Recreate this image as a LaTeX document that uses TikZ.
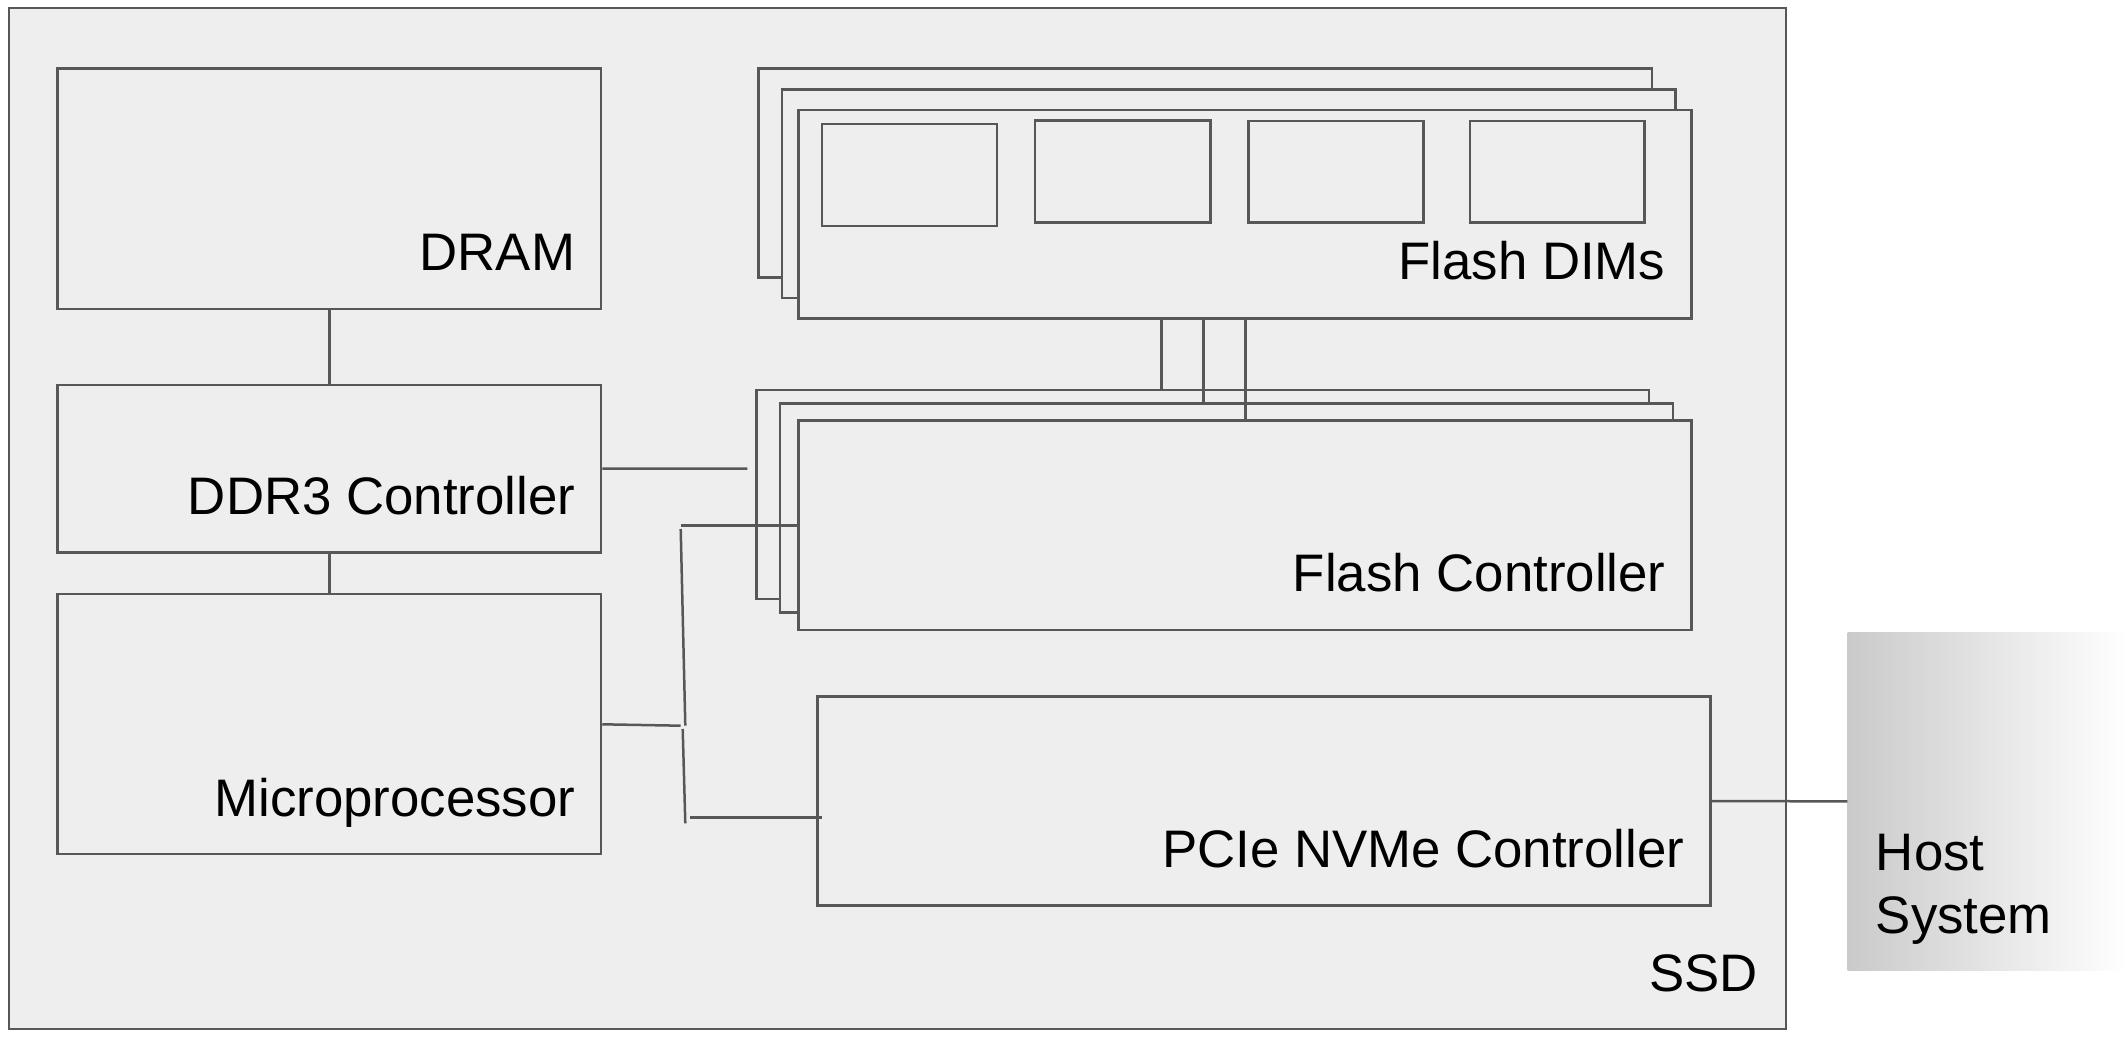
\documentclass[tikz,border=0pt]{standalone}
\usepackage{fontspec}
\setmainfont{Liberation Sans}
\usetikzlibrary{fit}
\definecolor{linec}{HTML}{575757}
\definecolor{boxfill}{HTML}{EEEEEE}
\definecolor{hostgray}{HTML}{CACACA}
\tikzset{
  blk/.style={draw=linec, fill=boxfill, line width=1.25pt, rectangle, inner sep=0pt},
  conn/.style={draw=linec, line width=1.25pt},
  lbl/.style={inner sep=0pt, anchor=base east, font=\fontsize{26.4}{31.85}\selectfont},
}
\begin{document}
\begin{tikzpicture}[x=0.5pt, y=-0.5pt]
\useasboundingbox (0,0) rectangle (2128,1042);
% SSD enclosure
\node[blk, fit={(9,8) (1786,1029)}] (ssd) {};
% left column
\node[blk, fit={(57.5,68.5) (601,309)}] (dram) {};
\node[blk, fit={(57.5,385) (601,552.5)}] (ddr) {};
\node[blk, fit={(57.5,594) (601,854)}] (micro) {};
% Flash DIMs stack
\node[blk, fit={(758.7,68.7) (1652,277.7)}] (dimb) {};
\node[blk, fit={(782,89.3) (1675.3,298)}] (dimm) {};
\node[blk, fit={(798.7,110) (1691.5,318.7)}] (dimf) {};
\node[blk, fit={(822,124) (997,226)}] (chipa) {};
\node[blk, fit={(1035,120.7) (1210.7,222.7)}] (chipb) {};
\node[blk, fit={(1248.5,120.8) (1423.6,222.6)}] (chipc) {};
\node[blk, fit={(1469.8,120.8) (1644.7,222.6)}] (chipd) {};
% Flash Controller stack
\node[blk, fit={(756.7,390) (1649,599)}] (fcb) {};
\node[blk, fit={(780,403.3) (1673,612.3)}] (fcm) {};
\node[blk, fit={(798.7,420.7) (1691.5,630)}] (fcf) {};
% PCIe NVMe controller
\node[blk, fit={(817.7,696.7) (1710.5,905.5)}] (pcie) {};
% Host system
\node[inner sep=0pt, rectangle, left color=hostgray, right color=white, fit={(1847.7,632.7) (2128,970)}] (host) {};

% labels
\node[lbl] (tdram) at (575.5,271) {DRAM};
\node[lbl] (tddr) at (575.7,514.5) {DDR3 Controller};
\node[lbl] (tmicro) at (575.7,816) {Microprocessor};
\node[lbl] (tdim) at (1665.7,280) {Flash DIMs};
\node[lbl] (tfc) at (1666,591) {Flash Controller};
\node[lbl] (tpcie) at (1684.8,867.5) {PCIe NVMe Controller};
\node[lbl] (tssd) at (1758,991) {SSD};
\node[inner sep=0pt, anchor=north west, align=left, font=\fontsize{26.4}{31.85}\selectfont] (thost) at (1875.5,833.5) {Host\\System};

% connectors
\coordinate (ddrEnd) at (747.3,468.5);
\coordinate (busTop) at (680.7,525.7);
\coordinate (busA) at (680.7,529);
\coordinate (busJ) at (685.3,725.7);
\coordinate (microEnd) at (680.7,725.7);
\coordinate (busB) at (682.7,729);
\coordinate (busBot) at (685.3,823.3);
\coordinate (pcieStart) at (690,817.3);
\coordinate (pcieEnd) at (822.3,817.3);

\draw[conn] (dram.south) -- (ddr.north);
\draw[conn] (ddr.south) -- (micro.north);
\draw[conn] (1161.3,0 |- dimf.south) -- (1161.3,0 |- fcb.north);
\draw[conn] (1203.3,0 |- dimf.south) -- (1203.3,0 |- fcm.north);
\draw[conn] (1245.3,0 |- dimf.south) -- (1245.3,0 |- fcf.north);
\draw[conn] (ddr.east) -- (ddrEnd);
\draw[conn] (busTop) -- (fcf.west |- busTop);
\draw[conn] (busA) -- (busJ);
\draw[conn] (micro.east |- 0,724.3) -- (microEnd);
\draw[conn] (busB) -- (busBot);
\draw[conn] (pcieStart) -- (pcieEnd);
\draw[conn] (pcie.east) -- (host.west);
\end{tikzpicture}
\end{document}
